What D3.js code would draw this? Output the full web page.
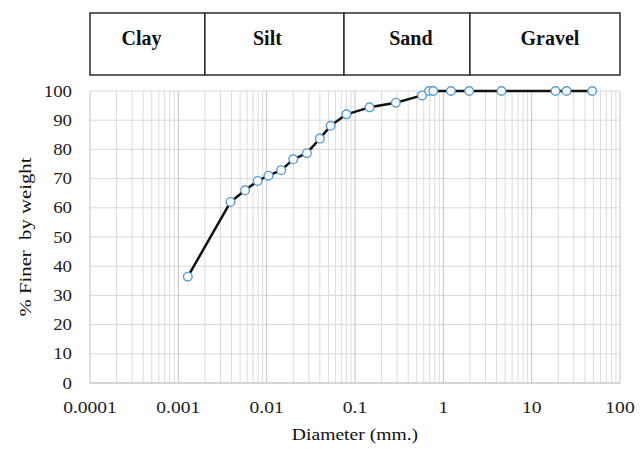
<!DOCTYPE html>
<html>
<head>
<meta charset="utf-8">
<script src="https://cdn.jsdelivr.net/npm/d3@7"></script>
<style>
  body { margin: 0; background: #fff; }
  svg { display: block; }
  text { font-family: "Liberation Serif", "Times New Roman", serif; }
</style>
</head>
<body>
<div id="chart"></div>
<script>
// grain size distribution data
const diameters = [0.00128, 0.0039, 0.0057, 0.0079, 0.0105, 0.0146, 0.020, 0.0285, 0.040, 0.053, 0.080, 0.146, 0.29, 0.575, 0.69, 0.77, 1.22, 1.96, 4.55, 18.6, 24.8, 48.4];
const finer = [36.4, 62, 66, 69.2, 71, 72.9, 76.6, 78.7, 83.7, 88.1, 92, 94.4, 96, 98.5, 100, 100, 100, 100, 100, 100, 100, 100];
const soilNames = ['Clay', 'Silt', 'Sand', 'Gravel'];
const soilBounds = [0.0001, 0.002, 0.075, 2, 100];
const xTicks = [0.0001, 0.001, 0.01, 0.1, 1, 10, 100];
const yTicks = [0, 10, 20, 30, 40, 50, 60, 70, 80, 90, 100];

const width = 644, height = 449;
const margin = { top: 91, right: 24, bottom: 66, left: 90 };
const plotW = width - margin.left - margin.right;
const plotH = height - margin.top - margin.bottom;
const serif = '"Liberation Serif", "Times New Roman", serif';

const svg = d3.select('#chart').append('svg')
    .attr('width', width)
    .attr('height', height);

const x = d3.scaleLog().domain([0.0001, 100]).range([0, plotW]);
const y = d3.scaleLinear().domain([0, 100]).range([plotH, 0]);

// the original picture is a bit wider than tall, so stretch labels sideways
function stretch(sel, factor) {
    sel.each(function () {
        const len = this.getComputedTextLength();
        d3.select(this).attr('textLength', len * factor).attr('lengthAdjust', 'spacingAndGlyphs');
    });
}

// header band with soil classes
const header = svg.append('g').attr('transform', 'translate(' + margin.left + ',13)');
const headerH = 62;
const labelShift = [-6, -7, 4, 5];
soilNames.forEach((name, i) => {
    const x0 = x(soilBounds[i]), x1 = x(soilBounds[i + 1]);
    header.append('rect')
        .attr('x', x0).attr('y', 0)
        .attr('width', x1 - x0).attr('height', headerH)
        .attr('fill', '#fff')
        .attr('stroke', '#2b2b2b')
        .attr('stroke-width', 1.5);
    header.append('text')
        .attr('x', (x0 + x1) / 2 + labelShift[i])
        .attr('y', 32)
        .attr('text-anchor', 'middle')
        .attr('font-family', serif)
        .attr('font-weight', 'bold')
        .attr('font-size', '20px')
        .attr('fill', '#111')
        .text(name);
});

const g = svg.append('g').attr('transform', 'translate(' + margin.left + ',' + margin.top + ')');

// vertical grid lines (log minor + major)
const minorTicks = [];
for (let e = -4; e < 2; e++) {
    for (let m = 2; m <= 9; m++) minorTicks.push(m * Math.pow(10, e));
}
g.append('g').selectAll('line')
    .data(minorTicks)
    .enter().append('line')
    .attr('x1', d => x(d)).attr('x2', d => x(d))
    .attr('y1', 0).attr('y2', plotH)
    .attr('stroke', '#dcdcdc')
    .attr('stroke-width', 1);

g.append('g').selectAll('line')
    .data(yTicks)
    .enter().append('line')
    .attr('x1', 0).attr('x2', plotW)
    .attr('y1', d => y(d)).attr('y2', d => y(d))
    .attr('stroke', '#d9d9d9')
    .attr('stroke-width', 1);

g.append('g').selectAll('line')
    .data(xTicks)
    .enter().append('line')
    .attr('x1', d => x(d)).attr('x2', d => x(d))
    .attr('y1', 0).attr('y2', plotH)
    .attr('stroke', '#c2c2c2')
    .attr('stroke-width', 1);

// bottom axis line
g.append('line')
    .attr('x1', 0).attr('x2', plotW)
    .attr('y1', plotH).attr('y2', plotH)
    .attr('stroke', '#bfbfbf');

// tick labels
const fmt = d => d >= 1 ? String(d) : d.toFixed(Math.round(-Math.log10(d)));
g.append('g').selectAll('text')
    .data(xTicks)
    .enter().append('text')
    .attr('x', d => x(d))
    .attr('y', plotH + 30)
    .attr('text-anchor', 'middle')
    .attr('font-family', serif)
    .attr('font-size', '17px')
    .attr('fill', '#222')
    .text(fmt)
    .call(stretch, 1.15);

g.append('g').selectAll('text')
    .data(yTicks)
    .enter().append('text')
    .attr('x', -18)
    .attr('y', d => y(d) + 5.5)
    .attr('text-anchor', 'end')
    .attr('font-family', serif)
    .attr('font-size', '16px')
    .attr('fill', '#222')
    .text(d => d)
    .call(stretch, 1.18);

// axis titles
svg.append('text')
    .attr('x', 355)
    .attr('y', 440)
    .attr('text-anchor', 'middle')
    .attr('font-family', serif)
    .attr('font-size', '17.5px')
    .attr('fill', '#111')
    .text('Diameter (mm.)')
    .call(stretch, 1.12);

svg.append('text')
    .attr('transform', 'translate(31,' + 237 + ') rotate(-90)')
    .attr('text-anchor', 'middle')
    .attr('font-family', serif)
    .attr('font-size', '17px')
    .attr('fill', '#111')
    .style('white-space', 'pre')
    .attr('textLength', 159)
    .attr('lengthAdjust', 'spacingAndGlyphs')
    .text('% Finer  by weight');

// curve
const pts = diameters.map((d, i) => ({ d: d, p: finer[i] }));
const line = d3.line()
    .x(d => x(d.d))
    .y(d => y(d.p));

g.append('path')
    .datum(pts)
    .attr('fill', 'none')
    .attr('stroke', '#111')
    .attr('stroke-width', 2.5)
    .attr('stroke-linejoin', 'round')
    .attr('d', line);

g.selectAll('circle')
    .data(pts)
    .enter().append('circle')
    .attr('cx', d => x(d.d))
    .attr('cy', d => y(d.p))
    .attr('r', 4.3)
    .attr('fill', '#fff')
    .attr('stroke', '#5b9bd5')
    .attr('stroke-width', 1.4);
</script>
</body>
</html>
